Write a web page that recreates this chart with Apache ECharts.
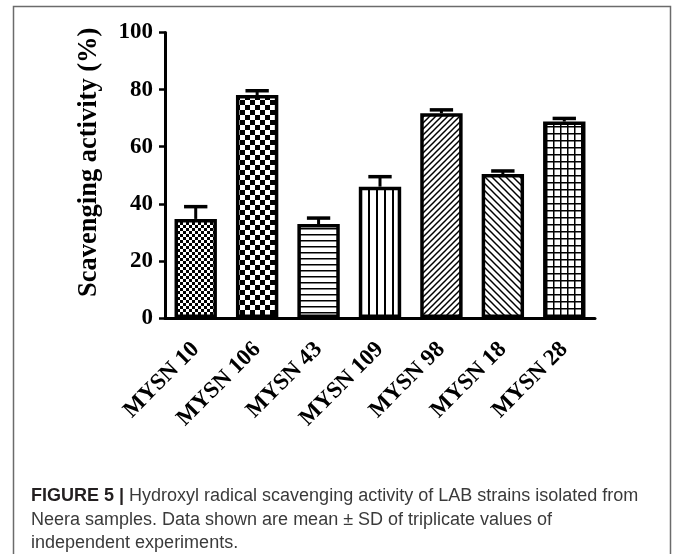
<!DOCTYPE html>
<html>
<head>
<meta charset="utf-8">
<script src="https://cdn.jsdelivr.net/npm/echarts@6/dist/echarts.min.js"></script>
<style>
html,body{margin:0;padding:0;background:#fff;}
#c{width:675px;height:554px;}
</style>
</head>
<body>
<div id="c"></div>
<script>
const categories = ['MYSN 10', 'MYSN 106', 'MYSN 43', 'MYSN 109', 'MYSN 98', 'MYSN 18', 'MYSN 28'];
const means = [34.7, 78.1, 32.9, 46.0, 71.7, 50.4, 68.8];
const sds = [4.3, 1.5, 2.1, 3.5, 1.2, 1.1, 1.1];
const yTicks = [0, 20, 40, 60, 80, 100];
const yTitle = 'Scavenging activity (%)';
const captionBold = 'FIGURE 5 |';
const captionLines = [
  ' Hydroxyl radical scavenging activity of LAB strains isolated from',
  'Neera samples. Data shown are mean \u00B1 SD of triplicate values of',
  'independent experiments.'
];

function mk(w, h, draw) {
  const c = document.createElement('canvas');
  c.width = w; c.height = h;
  const g = c.getContext('2d');
  g.fillStyle = '#fff'; g.fillRect(0, 0, w, h);
  g.fillStyle = '#000'; g.strokeStyle = '#000';
  draw(g, w, h);
  return { image: c, repeat: 'repeat' };
}
const patterns = [
  mk(6, 6, (g) => { g.fillRect(0, 0, 3, 3); g.fillRect(3, 3, 3, 3); }),
  mk(10, 10, (g) => { g.fillRect(0, 0, 5, 5); g.fillRect(5, 5, 5, 5); }),
  mk(4, 6, (g, w) => { g.fillRect(0, 0, w, 1.5); }),
  mk(8, 4, (g, w, h) => { g.fillRect(0, 0, 2, h); }),
  mk(6, 6, (g, s) => { g.lineWidth = 1.5; for (const k of [-s, 0, s]) { g.beginPath(); g.moveTo(k - 1, s + 1); g.lineTo(k + s + 1, -1); g.stroke(); } }),
  mk(7, 7, (g, s) => { g.lineWidth = 1.5; for (const k of [-s, 0, s]) { g.beginPath(); g.moveTo(k - 1, -1); g.lineTo(k + s + 1, s + 1); g.stroke(); } }),
  mk(7, 7, (g, w, h) => { g.fillRect(0, 0, w, 1.5); g.fillRect(0, 0, 1.5, h); })
];

const serif = '"Liberation Serif", "Times New Roman", serif';
const sans = '"Liberation Sans", Arial, sans-serif';
const chart = echarts.init(document.getElementById('c'), null, { renderer: 'canvas' });

const option = {
  backgroundColor: '#fff',
  animation: false,
  grid: { left: 165, right: 80, top: 32.5, bottom: 236, containLabel: false },
  xAxis: {
    type: 'category',
    data: categories,
    axisLine: { lineStyle: { color: '#000', width: 3 } },
    axisTick: { alignWithLabel: true, length: 8, lineStyle: { color: '#000', width: 2 } },
    axisLabel: { interval: 0, rotate: 45, margin: 28, color: '#000', fontFamily: serif, fontWeight: 'bold', fontSize: 23 }
  },
  yAxis: {
    type: 'value',
    min: yTicks[0], max: yTicks[yTicks.length - 1], interval: 20,
    name: yTitle,
    nameLocation: 'middle',
    nameRotate: 90,
    nameGap: 62,
    nameTextStyle: { color: '#000', fontFamily: serif, fontWeight: 'bold', fontSize: 26.5, padding: [0, 0, 0, 26] },
    splitLine: { show: false },
    axisLine: { show: true, lineStyle: { color: '#000', width: 3 } },
    axisTick: { show: true, length: 6, lineStyle: { color: '#000', width: 2.5 } },
    axisLabel: { margin: 12, color: '#000', fontFamily: serif, fontWeight: 'bold', fontSize: 23 }
  },
  series: [
    {
      type: 'bar',
      barWidth: '69%',
      data: means.map((v, i) => ({ value: v, itemStyle: { color: patterns[i] } })),
      itemStyle: { borderColor: '#000', borderWidth: 3.5 },
      z: 2
    },
    {
      type: 'custom',
      data: means.map((v, i) => [i, v, sds[i]]),
      encode: { x: 0, y: 1 },
      z: 3,
      renderItem: function (params, api) {
        const x = api.value(0), m = api.value(1), s = api.value(2);
        const p0 = api.coord([x, m]);
        const p1 = api.coord([x, m + s]);
        const hw = api.size([1, 0])[0] * 0.19;
        return {
          type: 'group',
          children: [
            { type: 'line', shape: { x1: p0[0], y1: p0[1], x2: p1[0], y2: p1[1] }, style: { stroke: '#000', lineWidth: 3 } },
            { type: 'line', shape: { x1: p1[0] - hw, y1: p1[1], x2: p1[0] + hw, y2: p1[1] }, style: { stroke: '#000', lineWidth: 3.5 } }
          ]
        };
      }
    }
  ],
  graphic: [
    { type: 'rect', silent: true, shape: { x: 13.5, y: 6.5, width: 657, height: 560 }, style: { fill: 'none', stroke: '#6b6b6b', lineWidth: 1.5 } },
    {
      type: 'text', x: 31, y: 487, silent: true,
      style: {
        text: '{b|' + captionBold + '}' + captionLines[0],
        font: '18px ' + sans,
        fill: '#3a3a3a', verticalAlign: 'alphabetic',
        rich: { b: { fontWeight: 'bold', fill: '#231f20', fontSize: 18, fontFamily: sans } }
      }
    },
    { type: 'text', x: 31, y: 511, silent: true, style: { text: captionLines[1], font: '18px ' + sans, fill: '#3a3a3a', verticalAlign: 'alphabetic' } },
    { type: 'text', x: 31, y: 534, silent: true, style: { text: captionLines[2], font: '18px ' + sans, fill: '#3a3a3a', verticalAlign: 'alphabetic' } }
  ]
};
chart.setOption(option);
</script>
</body>
</html>
